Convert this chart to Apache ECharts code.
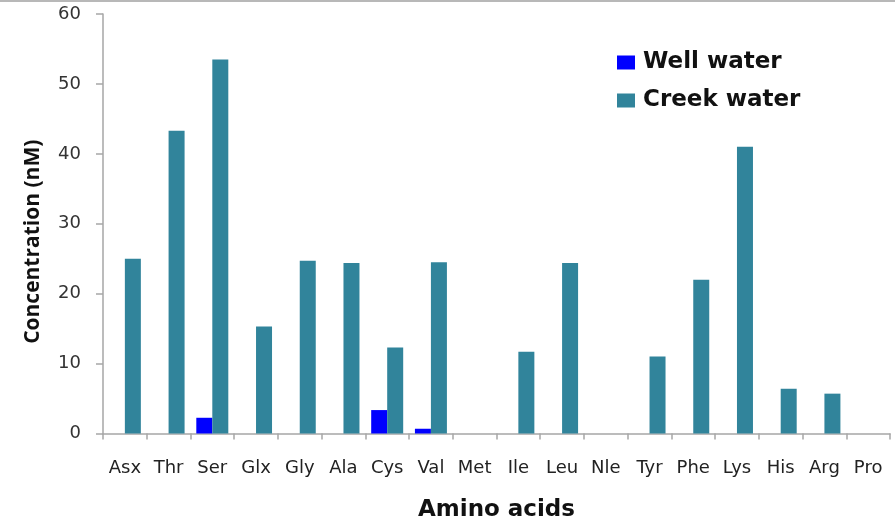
<!DOCTYPE html>
<html>
<head>
<meta charset="utf-8">
<script src="https://cdn.jsdelivr.net/npm/echarts@6/dist/echarts.min.js"></script>
<style>
html,body{margin:0;padding:0;background:#fff;}
#chart{width:895px;height:520px;}
</style>
</head>
<body>
<div id="chart"></div>
<script>
const categories = ['Asx','Thr','Ser','Glx','Gly','Ala','Cys','Val','Met','Ile','Leu','Nle','Tyr','Phe','Lys','His','Arg','Pro'];
const wellWater  = [0, 0, 2.25, 0, 0, 0, 3.35, 0.68, 0, 0, 0, 0, 0, 0, 0, 0, 0, 0];
const creekWater = [25.0, 43.3, 53.5, 15.3, 24.7, 24.4, 12.3, 24.5, 0, 11.7, 24.4, 0, 11.0, 22.0, 41.0, 6.4, 5.7, 0];
const yTicks = { min: 0, max: 60, interval: 10 };
const seriesNames = ['Well water', 'Creek water'];

const chart = echarts.init(document.getElementById('chart'), null, {renderer: 'canvas'});
const axisColor = '#a6a6a6';
chart.setOption({
  animation: false,
  backgroundColor: '#ffffff',
  graphic: [{
    type: 'line',
    shape: {x1: 0, y1: 1, x2: 895, y2: 1},
    style: {stroke: '#b8b8b8', lineWidth: 2}
  }],
  grid: {left: 103, right: 5, top: 14, bottom: 86.5, containLabel: false, outerBoundsMode: 'none'},
  legend: {
    orient: 'vertical',
    left: 612,
    top: 46,
    itemWidth: 18,
    itemHeight: 14,
    itemGap: 15,
    icon: 'rect',
    textStyle: {fontFamily: 'DejaVu Sans', fontWeight: 'bold', fontSize: 23, color: '#111', padding: [0,0,0,3]},
    data: seriesNames
  },
  xAxis: {
    type: 'category',
    data: categories,
    boundaryGap: true,
    name: 'Amino acids',
    nameLocation: 'middle',
    nameGap: 65,
    nameTextStyle: {fontFamily: 'DejaVu Sans', fontWeight: 'bold', fontSize: 23, color: '#111'},
    axisLine: {lineStyle: {color: axisColor, width: 1.5}},
    axisTick: {show: true, length: 6, lineStyle: {color: axisColor, width: 1.5}},
    axisLabel: {margin: 26, fontFamily: 'DejaVu Sans', fontSize: 18, color: '#222', interval: 0},
    splitLine: {show: false}
  },
  yAxis: {
    type: 'value',
    min: yTicks.min,
    max: yTicks.max,
    interval: yTicks.interval,
    name: 'Concentration (nM)',
    nameLocation: 'middle',
    nameGap: 59,
    nameTextStyle: {fontFamily: 'Open Sans', fontWeight: 'bold', fontSize: 21, color: '#111', padding: [0, 36, 0, 0]},
    axisLine: {show: true, lineStyle: {color: axisColor, width: 1.5}},
    axisTick: {show: true, length: 7, lineStyle: {color: axisColor, width: 1.5}},
    axisLabel: {margin: 22, fontFamily: 'DejaVu Sans', fontSize: 18, color: '#333'},
    splitLine: {show: false}
  },
  series: [
    {name: seriesNames[0], type: 'bar', data: wellWater, barWidth: 16, barGap: '0%', itemStyle: {color: '#0000ff'}},
    {name: seriesNames[1], type: 'bar', data: creekWater, barWidth: 16, barGap: '0%', itemStyle: {color: '#31849b'}}
  ]
});
</script>
</body>
</html>
